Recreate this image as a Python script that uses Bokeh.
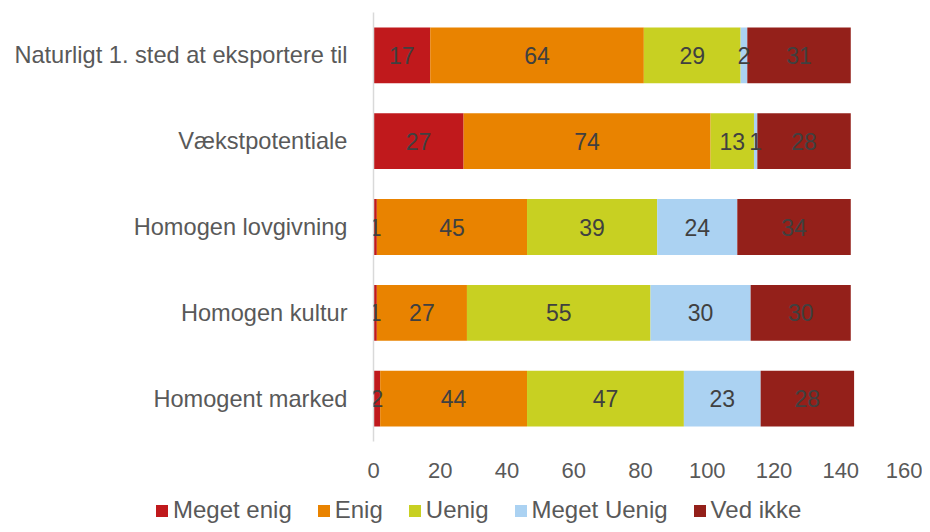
from bokeh.plotting import figure
from bokeh.layouts import column, row
from bokeh.models import ColumnDataSource, FactorRange, Range1d, FixedTicker, LabelSet, Legend, LegendItem
from bokeh.core.properties import value
from bokeh.embed import file_html
from bokeh.resources import INLINE

categories = ["Naturligt 1. sted at eksportere til", "Vækstpotentiale",
              "Homogen lovgivning", "Homogen kultur", "Homogent marked"]
series = ["Meget enig", "Enig", "Uenig", "Meget Uenig", "Ved ikke"]
meget_enig = [17, 27, 1, 1, 2]
enig = [64, 74, 45, 27, 44]
uenig = [29, 13, 39, 55, 47]
meget_uenig = [2, 1, 24, 30, 23]
ved_ikke = [31, 28, 34, 30, 28]
colors = ["#C0191C", "#E98300", "#C8D022", "#ABD2F2", "#94201A"]
x_ticks = [0, 20, 40, 60, 80, 100, 120, 140, 160]

values = [meget_enig, enig, uenig, meget_uenig, ved_ikke]
keys = ["s%d" % i for i in range(len(series))]
data = {"cat": categories}
for k, v in zip(keys, values):
    data[k] = v
source = ColumnDataSource(data)

FONT = "Liberation Sans"

p = figure(width=922, height=484, output_backend="svg", toolbar_location=None,
           y_range=FactorRange(factors=categories[::-1]),
           x_range=Range1d(0, 160),
           min_border_left=373, min_border_right=15, min_border_top=12, min_border_bottom=43)

renderers = p.hbar_stack(keys, y="cat", height=0.65, color=colors, line_color=None, source=source)

# segment labels
lab_x, lab_y, lab_t = [], [], []
for ci, cat in enumerate(categories):
    left = 0
    for v in values:
        val = v[ci]
        lab_x.append(left + val / 2)
        lab_y.append(cat)
        lab_t.append(str(val))
        left += val
lab_src = ColumnDataSource(dict(x=lab_x, y=lab_y, t=lab_t))
labels = LabelSet(x="x", y="y", text="t", source=lab_src, text_align="center",
                  text_baseline="middle", text_font=value(FONT), text_font_size="23px",
                  text_color="#404040")
p.add_layout(labels)

p.xgrid.visible = False
p.ygrid.visible = False
p.outline_line_color = None

p.xaxis.ticker = FixedTicker(ticks=x_ticks)
p.xaxis.axis_line_color = None
p.xaxis.major_tick_line_color = None
p.xaxis.minor_tick_line_color = None
p.xaxis.major_label_text_font = FONT
p.xaxis.major_label_text_font_size = "22px"
p.xaxis.major_label_text_color = "#595959"
p.xaxis.major_label_standoff = 15

p.yaxis.axis_line_color = "#D9D9D9"
p.yaxis.axis_line_width = 1.5
p.yaxis.major_tick_line_color = None
p.yaxis.minor_tick_line_color = None
p.yaxis.major_label_text_font = FONT
p.yaxis.major_label_text_font_size = "23.6px"
p.yaxis.major_label_text_color = "#595959"
p.yaxis.major_label_standoff = 20

# legend strip below the chart (proxy renderers, hidden)
pl = figure(width=922, height=40, output_backend="svg", toolbar_location=None,
            x_range=Range1d(0, 1), y_range=Range1d(0, 1),
            x_axis_location=None, y_axis_location=None, min_border=0)
pl.xgrid.visible = False
pl.ygrid.visible = False
pl.outline_line_color = None
leg_renderers = []
for c in colors:
    leg_renderers.append(pl.rect(x=[0], y=[0], width=0, height=0, fill_color=c,
                                 line_color=None, visible=False))

legend = Legend(items=[LegendItem(label=s, renderers=[r]) for s, r in zip(series, leg_renderers)],
                orientation="horizontal", location=(154, 0),
                glyph_width=15, glyph_height=15, label_standoff=4, spacing=24,
                padding=0, margin=0, border_line_color=None, background_fill_alpha=0,
                inactive_fill_alpha=0,
                label_text_font=FONT, label_text_font_size="24px", label_text_color="#595959")
pl.add_layout(legend, "center")

layout = column(p, row(pl), spacing=0)
open("out.html", "w").write(file_html(layout, INLINE))
